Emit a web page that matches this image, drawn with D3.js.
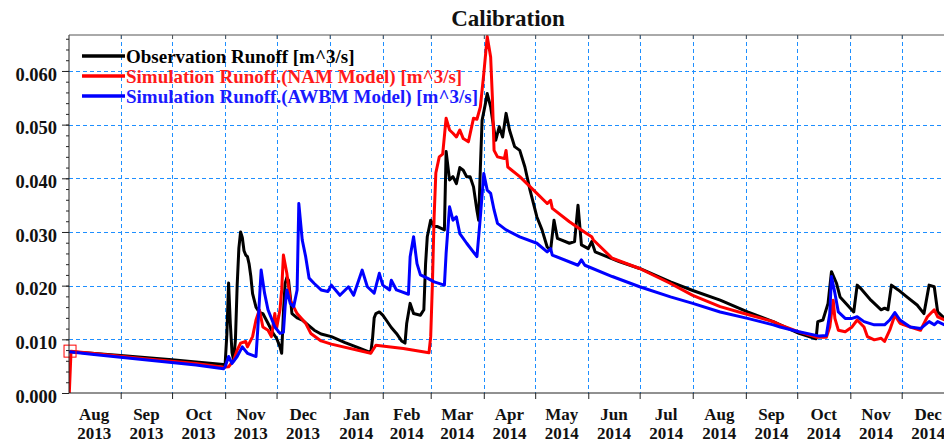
<!DOCTYPE html>
<html>
<head>
<meta charset="utf-8">
<script src="https://cdn.jsdelivr.net/npm/d3@7"></script>
<style>
  html, body { margin: 0; padding: 0; background: #fff; overflow: hidden; }
  svg { display: block; }
  text { font-family: "Liberation Serif", "Times New Roman", serif; font-weight: bold; }
</style>
</head>
<body>
<svg id="chart" width="944" height="443"></svg>
<script>
const title = "Calibration";
const seriesNames = [
  "Observation Runoff [m^3/s]",
  "Simulation Runoff.(NAM Model) [m^3/s]",
  "Simulation Runoff.(AWBM Model) [m^3/s]"
];
const seriesColors = ["#000000", "#ff0000", "#0000ff"];
const legendTextColors = ["#000000", "#ff1a1a", "#1a1aff"];
const yTicks = [0, 0.01, 0.02, 0.03, 0.04, 0.05, 0.06];
const yMinorStep = 0.002;
const monthStarts = ["2013-08-01","2013-09-01","2013-10-01","2013-11-01","2013-12-01",
  "2014-01-01","2014-02-01","2014-03-01","2014-04-01","2014-05-01","2014-06-01","2014-07-01",
  "2014-08-01","2014-09-01","2014-10-01","2014-11-01","2014-12-01","2015-01-01"];

const observation = [
["2013-08-02",0.0077],["2013-08-15",0.0074],["2013-09-01",0.0070],["2013-09-15",0.0066],["2013-10-01",0.0062],["2013-10-15",0.0058],["2013-10-31",0.0053],
["2013-11-01",0.0055],["2013-11-02",0.0110],["2013-11-03",0.0205],["2013-11-04",0.0130],["2013-11-05",0.0075],["2013-11-06",0.0060],["2013-11-07",0.0100],["2013-11-08",0.0200],["2013-11-09",0.0270],["2013-11-10",0.0300],["2013-11-11",0.0290],["2013-11-12",0.0265],["2013-11-13",0.0257],["2013-11-14",0.0254],["2013-11-15",0.0240],["2013-11-16",0.0217],["2013-11-17",0.0185],["2013-11-19",0.0160],["2013-11-21",0.0150],["2013-11-23",0.0148],["2013-11-26",0.0130],["2013-11-29",0.0111],
["2013-12-01",0.0102],["2013-12-03",0.0086],["2013-12-04",0.0074],["2013-12-05",0.0150],["2013-12-06",0.0204],["2013-12-07",0.0215],["2013-12-08",0.0210],["2013-12-09",0.0180],["2013-12-10",0.0148],["2013-12-13",0.0140],["2013-12-16",0.0136],["2013-12-20",0.0125],["2013-12-23",0.0117],["2013-12-27",0.0110],
["2014-01-02",0.0105],["2014-01-10",0.0094],["2014-01-18",0.0084],["2014-01-25",0.0075],["2014-01-26",0.0100],["2014-01-27",0.0140],["2014-01-28",0.0148],["2014-01-30",0.0151],
["2014-02-01",0.0145],["2014-02-03",0.0136],["2014-02-06",0.0122],["2014-02-09",0.0111],["2014-02-12",0.0097],["2014-02-14",0.0093],["2014-02-15",0.0130],["2014-02-17",0.0167],["2014-02-19",0.0148],["2014-02-23",0.0145],["2014-02-25",0.0155],["2014-02-26",0.0240],["2014-02-27",0.0291],
["2014-03-01",0.0322],["2014-03-03",0.0310],["2014-03-05",0.0310],["2014-03-09",0.0304],["2014-03-10",0.0450],["2014-03-12",0.0397],["2014-03-14",0.0403],["2014-03-16",0.0390],["2014-03-18",0.0420],["2014-03-20",0.0415],["2014-03-22",0.0403],["2014-03-24",0.0403],["2014-03-26",0.0384],["2014-03-28",0.0340],["2014-03-29",0.0322],["2014-03-30",0.0420],["2014-03-31",0.0508],
["2014-04-02",0.0540],["2014-04-03",0.0558],["2014-04-05",0.0533],["2014-04-07",0.0490],["2014-04-08",0.0471],["2014-04-10",0.0496],["2014-04-12",0.0477],["2014-04-14",0.0521],["2014-04-16",0.0490],["2014-04-19",0.0459],["2014-04-22",0.0452],["2014-04-25",0.0421],["2014-04-28",0.0378],
["2014-05-02",0.0328],["2014-05-05",0.0304],["2014-05-08",0.0272],["2014-05-10",0.0266],["2014-05-12",0.0322],["2014-05-14",0.0288],["2014-05-21",0.0279],["2014-05-24",0.0282],["2014-05-26",0.0350],["2014-05-28",0.0276],
["2014-06-01",0.0269],["2014-06-03",0.0282],["2014-06-05",0.0263],["2014-06-19",0.0245],["2014-07-01",0.0232],["2014-07-19",0.0207],["2014-08-01",0.0191],["2014-08-17",0.0173],["2014-09-02",0.0151],["2014-09-17",0.0133],
["2014-10-02",0.0111],["2014-10-12",0.0101],["2014-10-13",0.0133],["2014-10-16",0.0136],["2014-10-19",0.0167],["2014-10-21",0.0226],["2014-10-24",0.0204],["2014-10-26",0.0179],
["2014-11-01",0.0158],["2014-11-03",0.0151],["2014-11-05",0.0201],["2014-11-07",0.0195],["2014-11-13",0.0173],["2014-11-19",0.0155],["2014-11-21",0.0158],["2014-11-23",0.0155],["2014-11-25",0.0201],["2014-11-29",0.0192],
["2014-12-04",0.0179],["2014-12-10",0.0164],["2014-12-14",0.0148],["2014-12-17",0.0201],["2014-12-20",0.0198],["2014-12-22",0.0151],["2014-12-26",0.0139]
];

const namModel = [
["2013-08-02",0.0000],["2013-08-03",0.0078],["2013-08-15",0.0074],["2013-09-15",0.0064],["2013-10-15",0.0055],["2013-10-31",0.0048],
["2013-11-03",0.0049],["2013-11-06",0.0061],["2013-11-08",0.0080],["2013-11-10",0.0093],["2013-11-13",0.0096],["2013-11-14",0.0086],["2013-11-17",0.0105],["2013-11-19",0.0136],["2013-11-21",0.0155],["2013-11-23",0.0123],["2013-11-26",0.0117],["2013-11-28",0.0105],["2013-11-30",0.0148],
["2013-12-01",0.0120],["2013-12-03",0.0155],["2013-12-04",0.0192],["2013-12-05",0.0257],["2013-12-07",0.0223],["2013-12-09",0.0173],["2013-12-13",0.0148],["2013-12-18",0.0130],["2013-12-21",0.0111],["2013-12-27",0.0097],
["2014-01-02",0.0091],["2014-01-25",0.0074],["2014-01-28",0.0089],["2014-02-13",0.0083],["2014-02-28",0.0075],
["2014-03-01",0.0105],["2014-03-02",0.0204],["2014-03-03",0.0328],["2014-03-04",0.0410],["2014-03-06",0.0440],["2014-03-08",0.0445],["2014-03-10",0.0512],["2014-03-12",0.0490],["2014-03-14",0.0484],["2014-03-16",0.0477],["2014-03-18",0.0490],["2014-03-20",0.0474],["2014-03-23",0.0468],["2014-03-26",0.0512],["2014-03-28",0.0510],["2014-03-30",0.0533],
["2014-04-01",0.0595],["2014-04-03",0.0664],["2014-04-05",0.0626],["2014-04-06",0.0552],["2014-04-07",0.0452],["2014-04-09",0.0440],["2014-04-13",0.0437],["2014-04-14",0.0452],["2014-04-15",0.0421],["2014-04-22",0.0403],
["2014-05-02",0.0372],["2014-05-08",0.0353],["2014-05-10",0.0359],["2014-05-11",0.0344],["2014-05-21",0.0319],["2014-05-31",0.0297],["2014-06-03",0.0291],["2014-06-04",0.0285],["2014-06-15",0.0251],["2014-07-01",0.0232],["2014-07-19",0.0204],
["2014-08-01",0.0182],["2014-08-17",0.0161],["2014-08-31",0.0148],["2014-09-17",0.0133],["2014-09-21",0.0127],["2014-10-02",0.0114],["2014-10-12",0.0104],["2014-10-18",0.0104],["2014-10-20",0.0123],["2014-10-22",0.0173],["2014-10-23",0.0139],["2014-10-25",0.0117],["2014-10-29",0.0114],
["2014-11-02",0.0123],["2014-11-05",0.0136],["2014-11-09",0.0123],["2014-11-11",0.0105],["2014-11-15",0.0099],["2014-11-19",0.0102],["2014-11-21",0.0096],["2014-11-24",0.0117],["2014-11-27",0.0145],["2014-11-30",0.0130],
["2014-12-06",0.0123],["2014-12-12",0.0117],["2014-12-16",0.0142],["2014-12-20",0.0155],["2014-12-22",0.0142],["2014-12-26",0.0136]
];

const awbmModel = [
["2013-08-02",0.0077],["2013-08-15",0.0072],["2013-09-15",0.0062],["2013-10-15",0.0052],["2013-10-31",0.0045],
["2013-11-01",0.0049],["2013-11-03",0.0068],["2013-11-05",0.0055],["2013-11-08",0.0068],["2013-11-11",0.0086],["2013-11-14",0.0074],["2013-11-19",0.0068],["2013-11-20",0.0117],["2013-11-22",0.0229],["2013-11-24",0.0186],["2013-11-26",0.0155],["2013-11-30",0.0123],
["2013-12-03",0.0111],["2013-12-05",0.0113],["2013-12-06",0.0161],["2013-12-07",0.0192],["2013-12-09",0.0167],["2013-12-11",0.0161],["2013-12-13",0.0192],["2013-12-14",0.0353],["2013-12-16",0.0285],["2013-12-18",0.0254],["2013-12-20",0.0214],["2013-12-23",0.0204],["2013-12-27",0.0192],["2013-12-31",0.0189],
["2014-01-02",0.0201],["2014-01-07",0.0182],["2014-01-12",0.0198],["2014-01-15",0.0182],["2014-01-20",0.0229],["2014-01-23",0.0198],["2014-01-27",0.0186],["2014-01-30",0.0223],
["2014-02-01",0.0201],["2014-02-05",0.0192],["2014-02-06",0.0210],["2014-02-09",0.0192],["2014-02-16",0.0184],["2014-02-17",0.0254],["2014-02-19",0.0291],["2014-02-21",0.0241],["2014-02-23",0.0220],["2014-02-27",0.0214],
["2014-03-03",0.0207],["2014-03-09",0.0201],["2014-03-10",0.0260],["2014-03-11",0.0304],["2014-03-12",0.0347],["2014-03-14",0.0322],["2014-03-16",0.0328],["2014-03-18",0.0297],["2014-03-22",0.0279],["2014-03-28",0.0254],["2014-03-30",0.0328],
["2014-04-01",0.0409],["2014-04-03",0.0378],["2014-04-05",0.0372],["2014-04-07",0.0341],["2014-04-09",0.0316],["2014-04-14",0.0304],["2014-04-22",0.0291],
["2014-05-02",0.0279],["2014-05-08",0.0263],["2014-05-10",0.0269],["2014-05-11",0.0257],["2014-05-26",0.0238],["2014-05-28",0.0248],["2014-05-30",0.0238],
["2014-06-15",0.0217],["2014-07-01",0.0198],["2014-07-19",0.0179],["2014-08-01",0.0167],["2014-08-17",0.0151],["2014-09-02",0.0139],["2014-09-17",0.0127],["2014-09-21",0.0123],
["2014-10-02",0.0114],["2014-10-14",0.0106],["2014-10-18",0.0107],["2014-10-20",0.0148],["2014-10-21",0.0217],["2014-10-23",0.0186],["2014-10-25",0.0151],["2014-10-29",0.0139],
["2014-11-02",0.0139],["2014-11-05",0.0142],["2014-11-09",0.0133],["2014-11-15",0.0127],["2014-11-21",0.0127],["2014-11-24",0.0136],["2014-11-27",0.0150],["2014-11-30",0.0136],
["2014-12-06",0.0123],["2014-12-12",0.0120],["2014-12-17",0.0133],["2014-12-20",0.0127],["2014-12-22",0.0133],["2014-12-26",0.0127]
];

const parse = d3.utcParse("%Y-%m-%d");
const months = monthStarts.map(parse);
const allSeries = [observation, namModel, awbmModel].map(s => s.map(([d, v]) => ({date: parse(d), value: v})));

const svg = d3.select("#chart");
const W = 944, H = 443;
const plotLeft = 69, plotTop = 35, plotBottom = 393, plotRight = 1000;

const x = d3.scaleUtc()
  .domain([parse("2013-08-01"), parse("2014-12-01")])
  .range([67.6, 901.7]);
const y = d3.scaleLinear().domain([0, 0.0667]).range([plotBottom, plotTop]);

svg.append("defs").append("clipPath").attr("id", "clip")
  .append("rect").attr("x", plotLeft).attr("y", plotTop - 2)
  .attr("width", plotRight - plotLeft).attr("height", plotBottom - plotTop + 2);

// grid
const gridColor = "#1e8fff";
const grid = svg.append("g");
grid.selectAll("line.v").data(months.filter(m => x(m) > plotLeft + 1 && x(m) < W))
  .join("line").attr("class", "v")
  .attr("x1", d => Math.round(x(d)) + 0.5).attr("x2", d => Math.round(x(d)) + 0.5)
  .attr("y1", plotTop).attr("y2", plotBottom)
  .attr("stroke", gridColor).attr("stroke-width", 1).attr("stroke-dasharray", "4,3");
grid.selectAll("line.h").data(yTicks.filter(t => t > 0))
  .join("line").attr("class", "h")
  .attr("x1", plotLeft).attr("x2", W)
  .attr("y1", d => Math.round(y(d)) + 0.5).attr("y2", d => Math.round(y(d)) + 0.5)
  .attr("stroke", gridColor).attr("stroke-width", 1).attr("stroke-dasharray", "4,3");

// series
const line = d3.line().x(d => x(d.date)).y(d => y(d.value));
const plot = svg.append("g").attr("clip-path", "url(#clip)");
allSeries.forEach((s, i) => {
  plot.append("path").datum(s)
    .attr("fill", "none").attr("stroke", seriesColors[i])
    .attr("stroke-width", 3).attr("stroke-linejoin", "round")
    .attr("d", line);
});

// start marker on NAM series
const startPt = allSeries[1][1];
svg.append("rect")
  .attr("x", x(startPt.date) - 7).attr("y", y(startPt.value) - 6)
  .attr("width", 12).attr("height", 12)
  .attr("fill", "none").attr("stroke", "#ff0000").attr("stroke-width", 1);

// axes
const axisColor = "#222";
const yAxis = d3.axisLeft(y).tickValues(yTicks).tickSize(7).tickPadding(5).tickFormat(d3.format(".3f"));
const yMinor = d3.axisLeft(y).tickValues(d3.range(0, 0.0667, yMinorStep)).tickSize(3).tickFormat("");
const gy = svg.append("g").attr("transform", `translate(${plotLeft},0)`).call(yMinor);
gy.select(".domain").remove();
gy.selectAll("line").attr("stroke", axisColor);
const gy2 = svg.append("g").attr("transform", `translate(${plotLeft},0)`).call(yAxis);
gy2.select(".domain").attr("stroke", axisColor).attr("d", `M0,${plotTop}V${plotBottom}`);
gy2.selectAll("line").attr("stroke", axisColor);
gy2.selectAll("text").attr("font-size", 18.5).attr("fill", "#111").attr("dy", "0.5em")
  .attr("font-family", '"Liberation Serif", serif').attr("font-weight", "bold");

const xTickMonths = months.filter(m => x(m) > plotLeft + 1 && x(m) < W);
const xAxis = d3.axisBottom(x).tickValues(xTickMonths).tickSize(6).tickFormat("");
const gx = svg.append("g").attr("transform", `translate(0,${plotBottom})`).call(xAxis);
gx.select(".domain").attr("stroke", axisColor).attr("d", `M${plotLeft},0H${W}`);
gx.selectAll("line").attr("stroke", axisColor);

const xTop = d3.axisTop(x).tickValues(xTickMonths).tickSize(-4).tickFormat("");
const gt = svg.append("g").attr("transform", `translate(0,${plotTop})`).call(xTop);
gt.select(".domain").attr("stroke", "#555").attr("d", `M${plotLeft},0H${W}`);
gt.selectAll("line").attr("stroke", "#555");

// month labels centred in each month
const fmtM = d3.utcFormat("%b"), fmtY = d3.utcFormat("%Y");
const labelData = months.slice(0, -1).map((m, i) => ({m, cx: (x(m) + x(months[i + 1])) / 2}));
const lab = svg.append("g");
lab.selectAll("text.m").data(labelData).join("text").attr("class", "m")
  .attr("x", d => d.cx).attr("y", 420).attr("text-anchor", "middle")
  .attr("font-size", 17).attr("fill", "#111").text(d => fmtM(d.m));
lab.selectAll("text.y").data(labelData).join("text").attr("class", "y")
  .attr("x", d => d.cx).attr("y", 439).attr("text-anchor", "middle")
  .attr("font-size", 17).attr("fill", "#111").text(d => fmtY(d.m));

// title
svg.append("text").attr("x", 508).attr("y", 26).attr("text-anchor", "middle")
  .attr("font-size", 23).attr("fill", "#111").text(title);

// legend
const lg = svg.append("g");
seriesNames.forEach((name, i) => {
  const ly = 56 + i * 20;
  lg.append("line").attr("x1", 82).attr("x2", 125).attr("y1", ly).attr("y2", ly)
    .attr("stroke", seriesColors[i]).attr("stroke-width", 3.5);
  lg.append("text").attr("x", 126).attr("y", ly + 6.5)
    .attr("font-size", 19).attr("fill", legendTextColors[i]).text(name);
});
</script>
</body>
</html>
